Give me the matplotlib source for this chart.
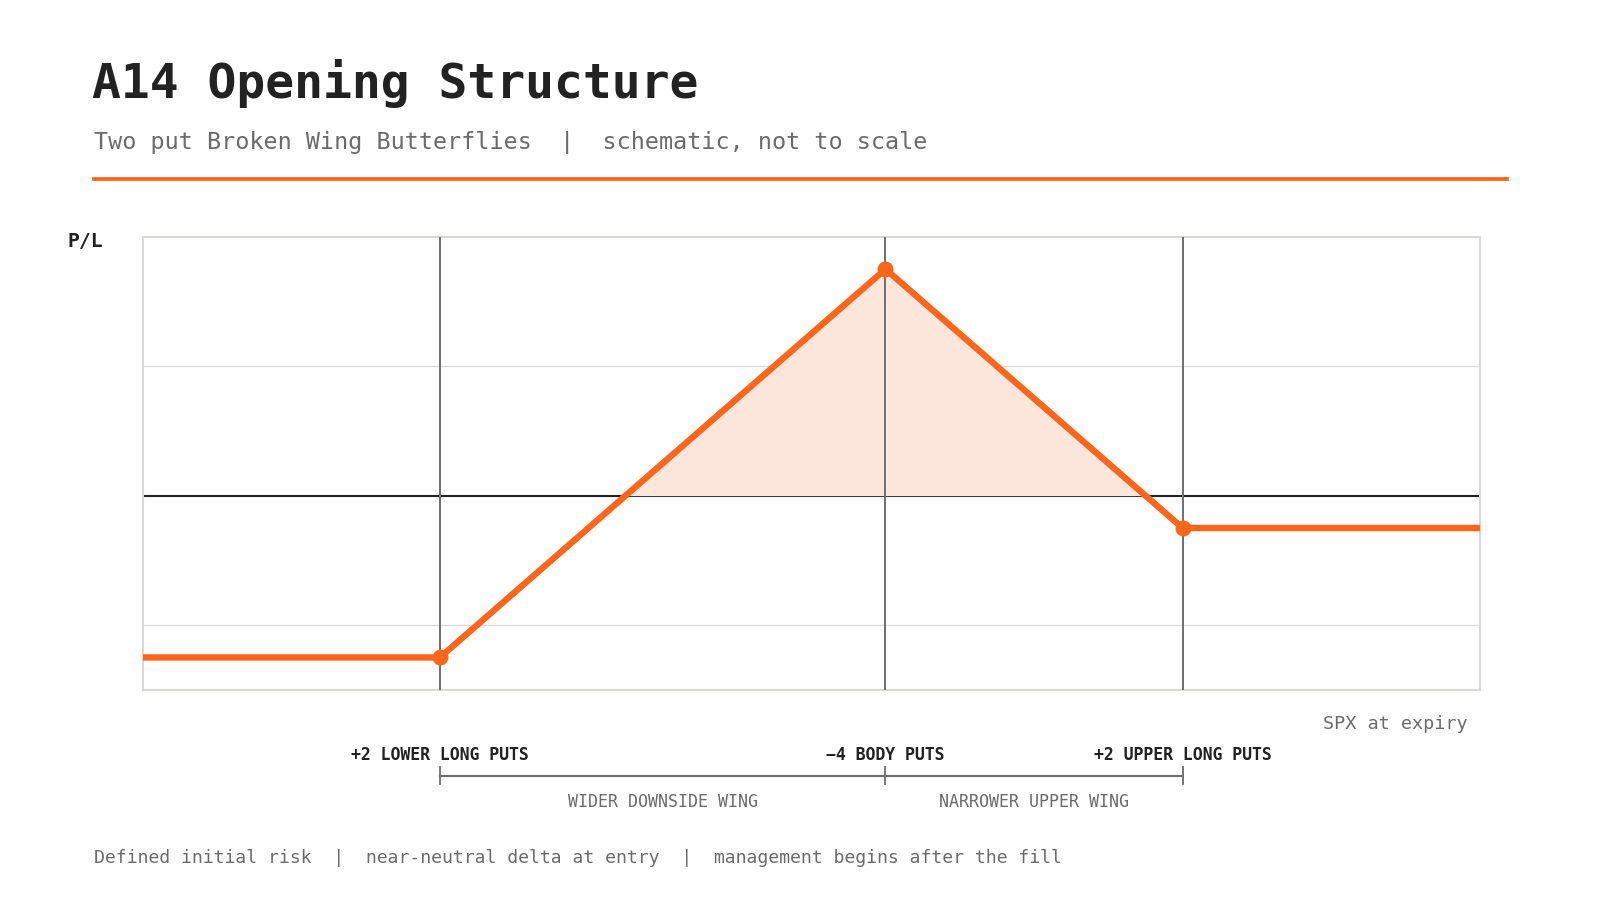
import matplotlib
matplotlib.use('Agg')
import matplotlib.pyplot as plt
import numpy as np

plt.rcParams['font.family'] = ['DejaVu Sans Mono', 'DejaVu Sans']

# schematic payoff at expiry (x = SPX, y = P/L), not to scale
strikes = [2, 5, 7]
strike_labels = ['+2 LOWER LONG PUTS', '\u22124 BODY PUTS', '+2 UPPER LONG PUTS']
wing_labels = ['WIDER DOWNSIDE WING', 'NARROWER UPPER WING']
spx = [0, 2, 5, 7, 9]
pnl = [-1.25, -1.25, 1.75, -0.25, -0.25]
grid_levels = [-1, 1]
x_range = (0, 9)
y_range = (-1.5, 2)

ORANGE = '#ff6619'
FILL = '#fde6dc'
GREY_TXT = '#6b6b6b'
DARK = '#222222'

# layout measured on a 1568x882 view of the reference
W, H = 1568.0, 882.0
def fx(px):
    return px / W
def fyf(py):
    return 1 - py / H

fig = plt.figure(figsize=(16, 9), dpi=100)
fig.patch.set_facecolor('white')

# header
fig.text(fx(90), fyf(82), 'A14 Opening Structure', fontsize=34.6, fontweight='bold',
         color=DARK, ha='left', va='center')
fig.text(fx(92), fyf(140), 'Two put Broken Wing Butterflies  |  schematic, not to scale',
         fontsize=16.8, color=GREY_TXT, ha='left', va='center')
fig.add_artist(plt.Line2D([fx(92), fx(1477)], [fyf(175), fyf(175)],
                          color=ORANGE, lw=2.7, transform=fig.transFigure))

ax_l, ax_r, ax_t, ax_b = 140, 1450, 232, 676
ax = fig.add_axes([fx(ax_l), fyf(ax_b), (ax_r - ax_l) / W, (ax_b - ax_t) / H])
ax.set_xlim(*x_range)
ax.set_ylim(*y_range)
ax.set_xticks([])
ax.set_yticks([])
for s in ax.spines.values():
    s.set_color('#d8d8d4')
    s.set_linewidth(1.5)

for g in grid_levels:
    ax.axhline(g, color='#dcdcdc', lw=1, zorder=1)
ax.axhline(0, color=DARK, lw=1.5, zorder=1)

x = np.array(spx, dtype=float)
y = np.array(pnl, dtype=float)
xf = np.linspace(x_range[0], x_range[1], 2001)
yf = np.interp(xf, x, y)
ax.fill_between(xf, 0, yf, where=yf > 0, color=FILL, lw=0, zorder=2)

for k in strikes:
    ax.axvline(k, color='#6e6e6e', lw=1.4, zorder=3)

ax.plot(x, y, color=ORANGE, lw=4.6, solid_joinstyle='round', zorder=4)
ax.plot(strikes, np.interp(strikes, x, y), 'o', color=ORANGE, ms=10.5, zorder=5)

def ay(py):
    # view pixel row -> axes fraction
    return (ax_b - py) / (ax_b - ax_t)

ax.text((84 - ax_l) / (ax_r - ax_l), ay(237), 'P/L', transform=ax.transAxes,
        fontsize=14.2, fontweight='bold', color=DARK, ha='center', va='center')
fig.text(fx(1438), fyf(710), 'SPX at expiry', fontsize=13.3, color=GREY_TXT,
         ha='right', va='center')

# strike labels and wing bracket below the axes
trans = ax.get_xaxis_transform()
for k, lab in zip(strikes, strike_labels):
    ax.text(k, ay(740), lab, transform=trans, fontsize=11.9, fontweight='bold',
            color=DARK, ha='center', va='center', clip_on=False)
    ax.plot([k, k], [ay(752), ay(768)], transform=trans, color='#6e6e6e', lw=1.3,
            clip_on=False)
ax.plot([strikes[0], strikes[-1]], [ay(760), ay(760)], transform=trans,
        color='#6e6e6e', lw=1.5, clip_on=False)
for a, b, lab in zip(strikes[:-1], strikes[1:], wing_labels):
    ax.text((a + b) / 2, ay(786), lab, transform=trans, fontsize=12, color=GREY_TXT,
            ha='center', va='center', clip_on=False)

fig.text(fx(92), fyf(841),
         'Defined initial risk  |  near-neutral delta at entry  |  management begins after the fill',
         fontsize=13.1, color=GREY_TXT, ha='left', va='center')

plt.savefig('out.png', dpi=100, facecolor='white')
plt.close()
